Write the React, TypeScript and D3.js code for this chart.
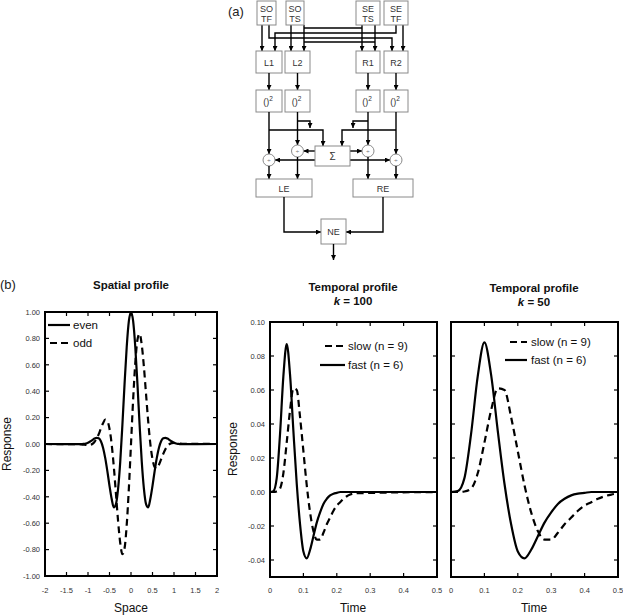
import React from 'react';
import * as d3 from 'd3';

// ---------- Data ----------
const spaceX = [-2, -1.2, -1.15, -1.1, -1.05, -1, -0.95, -0.9, -0.85, -0.8, -0.75, -0.7, -0.65, -0.6, -0.55, -0.5, -0.45, -0.4, -0.35, -0.3, -0.25, -0.2, -0.15, -0.1, -0.05, 0, 0.05, 0.1, 0.15, 0.2, 0.25, 0.3, 0.35, 0.4, 0.45, 0.5, 0.55, 0.6, 0.65, 0.7, 0.75, 0.8, 0.85, 0.9, 0.95, 1, 1.05, 1.1, 1.15, 1.2, 2];
const evenResp = [0, -0.001, -0.001, 0.001, 0.004, 0.01, 0.019, 0.03, 0.041, 0.047, 0.043, 0.021, -0.028, -0.105, -0.205, -0.317, -0.415, -0.48, -0.455, -0.338, -0.133, 0.146, 0.454, 0.733, 0.93, 1, 0.93, 0.733, 0.454, 0.146, -0.133, -0.338, -0.455, -0.48, -0.415, -0.317, -0.205, -0.105, -0.028, 0.021, 0.043, 0.047, 0.041, 0.03, 0.019, 0.01, 0.004, 0.001, -0.001, -0.001, 0];
const oddResp = [0, -0.002, -0.003, -0.005, -0.007, -0.008, -0.007, 0, 0.015, 0.04, 0.075, 0.117, 0.157, 0.185, 0.175, 0.115, 0, -0.171, -0.377, -0.585, -0.751, -0.835, -0.79, -0.615, -0.338, 0, 0.338, 0.615, 0.79, 0.835, 0.751, 0.585, 0.377, 0.171, 0, -0.115, -0.175, -0.185, -0.157, -0.117, -0.075, -0.04, -0.015, 0, 0.007, 0.008, 0.007, 0.005, 0.003, 0.002, 0];
const spaceXTicks = [-2, -1.5, -1, -0.5, 0, 0.5, 1, 1.5, 2];
const spaceXTickLabels = ['-2', '-1.5', '-1', '-0.5', '0', '0.5', '1', '1.5', '2'];
const spaceYTicks = [-1, -0.8, -0.6, -0.4, -0.2, 0, 0.2, 0.4, 0.6, 0.8, 1];
const spaceYTickLabels = ['-1.00', '-0.80', '-0.60', '-0.40', '-0.20', '0.00', '0.20', '0.40', '0.60', '0.80', '1.00'];

const timeK100 = [0, 0.01, 0.02, 0.03, 0.04, 0.05, 0.06, 0.07, 0.08, 0.09, 0.1, 0.11, 0.12, 0.13, 0.14, 0.15, 0.16, 0.17, 0.18, 0.19, 0.2, 0.21, 0.22, 0.23, 0.24, 0.25, 0.5];
const fastK100 = [0, 0.0005, 0.008, 0.034, 0.068, 0.087, 0.069, 0.036, 0.005, -0.019, -0.035, -0.039, -0.034, -0.026, -0.018, -0.012, -0.007, -0.004, -0.002, -0.001, -0.0005, 0, 0, 0, 0, 0, 0];
const slowK100 = [0, 0, 0.0003, 0.002, 0.011, 0.029, 0.048, 0.061, 0.06, 0.044, 0.024, 0.004, -0.012, -0.023, -0.028, -0.028, -0.024, -0.019, -0.015, -0.011, -0.008, -0.006, -0.004, -0.0025, -0.0015, -0.0008, 0];

const timeK50 = [0, 0.02, 0.04, 0.06, 0.08, 0.1, 0.12, 0.14, 0.16, 0.18, 0.2, 0.22, 0.24, 0.26, 0.28, 0.3, 0.32, 0.34, 0.36, 0.38, 0.4, 0.42, 0.44, 0.46, 0.48, 0.5];
const fastK50 = [0, 0.0005, 0.008, 0.034, 0.068, 0.088, 0.069, 0.036, 0.005, -0.019, -0.035, -0.039, -0.034, -0.026, -0.018, -0.012, -0.007, -0.004, -0.002, -0.001, -0.0005, 0, 0, 0, 0, 0];
const slowK50 = [0, 0, 0.0003, 0.002, 0.011, 0.029, 0.048, 0.061, 0.06, 0.044, 0.024, 0.004, -0.012, -0.023, -0.028, -0.028, -0.024, -0.019, -0.015, -0.011, -0.008, -0.006, -0.004, -0.0025, -0.0015, -0.0008];

const timeTicks = [0, 0.1, 0.2, 0.3, 0.4, 0.5];
const timeTickLabels = ['0', '0.1', '0.2', '0.3', '0.4', '0.5'];
const respTicks = [-0.04, -0.02, 0, 0.02, 0.04, 0.06, 0.08, 0.1];
const respTickLabels = ['-0.04', '-0.02', '0.00', '0.02', '0.04', '0.06', '0.08', '0.10'];

const FONT = '"Liberation Sans", Arial, Helvetica, sans-serif';

type Series = { xs: number[]; ys: number[]; dashed: boolean };

function Panel(props: {
  x0: number; x1: number; y0: number; y1: number;
  xDomain: [number, number]; yDomain: [number, number];
  xTicks: number[]; xTickLabels: string[];
  yTicks: number[]; yTickLabels?: string[];
  series: Series[];
}) {
  const { x0, x1, y0, y1, xDomain, yDomain, xTicks, xTickLabels, yTicks, yTickLabels, series } = props;
  const xs = d3.scaleLinear().domain(xDomain).range([x0, x1]);
  const ys = d3.scaleLinear().domain(yDomain).range([y1, y0]);
  const tl = 4;
  return (
    <g>
      {series.map((s, k) => {
        const line = d3.line<number>()
          .x((_, i) => xs(s.xs[i]))
          .y((d) => ys(d))
          .curve(d3.curveMonotoneX);
        return (
          <path key={k} d={line(s.ys) || ''} fill="none" stroke="#000" strokeWidth={2.2}
            strokeDasharray={s.dashed ? '7,4.5' : undefined} strokeLinejoin="round" />
        );
      })}
      {xTicks.map((t, i) => (
        <g key={'xt' + i}>
          <line x1={xs(t)} x2={xs(t)} y1={y1} y2={y1 - tl} stroke="#000" strokeWidth={1.2} />
          <line x1={xs(t)} x2={xs(t)} y1={y0} y2={y0 + tl} stroke="#000" strokeWidth={1.2} />
          <text x={xs(t)} y={593} fontSize={7.5} textAnchor="middle" fill="#333" fontFamily={FONT}>{xTickLabels[i]}</text>
        </g>
      ))}
      {yTicks.map((t, i) => (
        <g key={'yt' + i}>
          <line x1={x0} x2={x0 + tl} y1={ys(t)} y2={ys(t)} stroke="#000" strokeWidth={1.2} />
          <line x1={x1} x2={x1 - tl} y1={ys(t)} y2={ys(t)} stroke="#000" strokeWidth={1.2} />
          {yTickLabels && (
            <text x={x0 - 5} y={ys(t) + 2.7} fontSize={7.5} textAnchor="end" fill="#333" fontFamily={FONT}>{yTickLabels[i]}</text>
          )}
        </g>
      ))}
      <rect x={x0} y={y0} width={x1 - x0} height={y1 - y0} fill="none" stroke="#000" strokeWidth={2} />
    </g>
  );
}

function Box({ x0, x1, y0, y1, children }: { x0: number; x1: number; y0: number; y1: number; children?: React.ReactNode }) {
  return (
    <g>
      <rect x={x0} y={y0} width={x1 - x0} height={y1 - y0} fill="#fff" stroke="#8a8a8a" strokeWidth={1} />
      {children}
    </g>
  );
}

function Diagram() {
  const lab = (x: number, y: number, s: string, fs = 9) => (
    <text x={x} y={y} fontSize={fs} textAnchor="middle" fill="#333" fontFamily={FONT}>{s}</text>
  );
  const arrow = { fill: 'none', stroke: '#000', strokeWidth: 1.4, markerEnd: 'url(#ah)' } as any;
  const plain = { fill: 'none', stroke: '#000', strokeWidth: 1.4 } as any;
  const top = [
    { x0: 257, x1: 276, a: 'SO', b: 'TF' },
    { x0: 286, x1: 304, a: 'SO', b: 'TS' },
    { x0: 356, x1: 380, a: 'SE', b: 'TS' },
    { x0: 384, x1: 408, a: 'SE', b: 'TF' },
  ];
  const mid = [
    { x0: 256, x1: 282, l: 'L1' },
    { x0: 285, x1: 310, l: 'L2' },
    { x0: 356, x1: 380, l: 'R1' },
    { x0: 384, x1: 408, l: 'R2' },
  ];
  const circles = [[269, 160], [297.5, 151], [368, 151], [396, 160]];
  return (
    <g>
      <defs>
        <marker id="ah" viewBox="0 0 10 10" refX={10} refY={5} markerWidth={5} markerHeight={5} markerUnits="userSpaceOnUse" orient="auto">
          <path d="M0,0 L10,5 L0,10 z" fill="#000" />
        </marker>
      </defs>
      <text x={228} y={16} fontSize={13} fontFamily={FONT} fill="#222">(a)</text>
      <path d="M262,25 V51" {...arrow} />
      <path d="M269,25 V38 H392 V51" {...arrow} />
      <path d="M291,25 V51" {...arrow} />
      <path d="M304,25 V51" {...arrow} />
      <path d="M304,28 H362" {...plain} />
      <path d="M362,25 V51" {...arrow} />
      <path d="M375,25 V51" {...arrow} />
      <path d="M396,25 V33 H275 V51" {...arrow} />
      <path d="M403,25 V51" {...arrow} />
      <path d="M304,42 H375" {...plain} />
      {top.map((b, i) => (
        <Box key={'t' + i} x0={b.x0} x1={b.x1} y0={1} y1={25}>
          {lab((b.x0 + b.x1) / 2, 11.5, b.a)}
          {lab((b.x0 + b.x1) / 2, 22, b.b)}
        </Box>
      ))}
      {mid.map((b, i) => {
        const cx = (b.x0 + b.x1) / 2;
        return (
          <g key={'m' + i}>
            <Box x0={b.x0} x1={b.x1} y0={51} y1={73}>{lab(cx, 65.5, b.l)}</Box>
            <path d={`M${cx},73 V90`} {...arrow} />
            <Box x0={b.x0} x1={b.x1} y0={90} y1={112}>
              <text x={cx - 1} y={105} fontSize={9} textAnchor="middle" fill="#333" fontFamily={FONT}>
                ()<tspan fontSize={6.5} dy={-4}>2</tspan>
              </text>
            </Box>
          </g>
        );
      })}
      <path d="M269,112 V154" {...arrow} />
      <path d="M269,130 H323 V146" {...arrow} />
      <path d="M297.5,112 V145" {...arrow} />
      <path d="M297.5,121 H310 V128" {...arrow} />
      <path d="M396,112 V154" {...arrow} />
      <path d="M396,130 H342 V146" {...arrow} />
      <path d="M368,112 V145" {...arrow} />
      <path d="M368,121 H353 V128" {...arrow} />
      <path d="M315,151 H303.5" {...arrow} />
      <path d="M315,160 H275" {...arrow} />
      <path d="M350,151 H362" {...arrow} />
      <path d="M350,160 H390" {...arrow} />
      <Box x0={315} x1={350} y0={146} y1={166}>{lab(332.5, 160, 'Σ', 10)}</Box>
      {circles.map(([cx, cy], i) => (
        <g key={'c' + i}>
          <circle cx={cx} cy={cy} r={6} fill="#fff" stroke="#8a8a8a" strokeWidth={1} />
          <text x={cx} y={cy + 2} fontSize={6} textAnchor="middle" fill="#555" fontFamily={FONT}>÷</text>
          <path d={`M${cx},${cy + 6} V179`} {...arrow} />
        </g>
      ))}
      <Box x0={256} x1={312} y0={179} y1={197}>{lab(284, 191.5, 'LE')}</Box>
      <Box x0={353} x1={413} y0={179} y1={197}>{lab(383, 191.5, 'RE')}</Box>
      <path d="M284,197 V232 H321" {...arrow} />
      <path d="M383,197 V232 H346" {...arrow} />
      <Box x0={321} x1={346} y0={219} y1={244}>{lab(333.5, 235, 'NE')}</Box>
      <path d="M333.5,244 V260" {...arrow} />
    </g>
  );
}

function Legend({ x0, x1, tx, ys, labels, dashed }: { x0: number[]; x1: number; tx: number; ys: number[]; labels: string[]; dashed: boolean[] }) {
  return (
    <g>
      {labels.map((l, i) => (
        <g key={i}>
          <line x1={x0[i]} x2={x1} y1={ys[i]} y2={ys[i]} stroke="#000" strokeWidth={2.2} strokeDasharray={dashed[i] ? '7,4' : undefined} />
          <text x={tx} y={ys[i] + 4} fontSize={11.5} fontFamily={FONT} fill="#111">{l}</text>
        </g>
      ))}
    </g>
  );
}

export default function App() {
  return (
    <svg width={623} height={616} style={{ position: 'absolute', left: 0, top: 0, background: '#fff' }} fontFamily={FONT}>
      <rect x={0} y={0} width={623} height={616} fill="#fff" />
      <Diagram />
      <text x={0} y={289} fontSize={13} fill="#222">(b)</text>

      <text x={131} y={289} fontSize={11.5} fontWeight="bold" textAnchor="middle" fill="#111">Spatial profile</text>
      <Panel x0={45} x1={217} y0={312} y1={576} xDomain={[-2, 2]} yDomain={[-1, 1]}
        xTicks={spaceXTicks} xTickLabels={spaceXTickLabels} yTicks={spaceYTicks} yTickLabels={spaceYTickLabels}
        series={[{ xs: spaceX, ys: evenResp, dashed: false }, { xs: spaceX, ys: oddResp, dashed: true }]} />
      <Legend x0={[48, 50]} x1={70} tx={73} ys={[325, 343]} labels={['even', 'odd']} dashed={[false, true]} />
      <text transform="translate(11,444) rotate(-90)" fontSize={12} textAnchor="middle" fill="#111">Response</text>
      <text x={131} y={612} fontSize={12} textAnchor="middle" fill="#111">Space</text>

      <text x={353} y={291} fontSize={11.5} fontWeight="bold" textAnchor="middle" fill="#111">Temporal profile</text>
      <text x={353} y={304.5} fontSize={11.5} fontWeight="bold" textAnchor="middle" fill="#111"><tspan fontStyle="italic">k</tspan> = 100</text>
      <Panel x0={270} x1={437} y0={322} y1={577} xDomain={[0, 0.5]} yDomain={[-0.05, 0.1]}
        xTicks={timeTicks} xTickLabels={timeTickLabels} yTicks={respTicks} yTickLabels={respTickLabels}
        series={[{ xs: timeK100, ys: fastK100, dashed: false }, { xs: timeK100, ys: slowK100, dashed: true }]} />
      <Legend x0={[325, 320]} x1={345} tx={348} ys={[346, 365]} labels={['slow (n = 9)', 'fast (n = 6)']} dashed={[true, false]} />
      <text transform="translate(237,449) rotate(-90)" fontSize={12} textAnchor="middle" fill="#111">Response</text>
      <text x={353} y={612} fontSize={12} textAnchor="middle" fill="#111">Time</text>

      <text x={534} y={292} fontSize={11.5} fontWeight="bold" textAnchor="middle" fill="#111">Temporal profile</text>
      <text x={534} y={305.5} fontSize={11.5} fontWeight="bold" textAnchor="middle" fill="#111"><tspan fontStyle="italic">k</tspan> = 50</text>
      <Panel x0={451} x1={618} y0={322} y1={577} xDomain={[0, 0.5]} yDomain={[-0.05, 0.1]}
        xTicks={timeTicks} xTickLabels={timeTickLabels} yTicks={respTicks}
        series={[{ xs: timeK50, ys: fastK50, dashed: false }, { xs: timeK50, ys: slowK50, dashed: true }]} />
      <Legend x0={[510, 505]} x1={527} tx={531} ys={[342, 360]} labels={['slow (n = 9)', 'fast (n = 6)']} dashed={[true, false]} />
      <text x={534} y={612} fontSize={12} textAnchor="middle" fill="#111">Time</text>
    </svg>
  );
}
